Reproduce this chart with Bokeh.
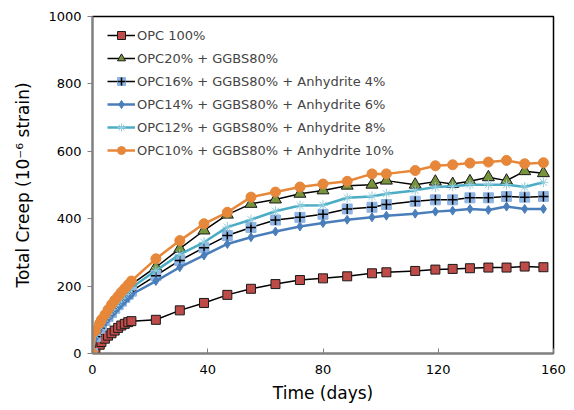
from bokeh.plotting import figure
from bokeh.models import FixedTicker, Legend, LegendItem
from bokeh.embed import file_html
from bokeh.resources import INLINE

days = [0, 1, 2.5, 3.1, 4.3, 5.4, 6.6, 7.7, 8.9, 10, 11.2, 12.4, 13.5,
        22, 30.3, 38.7, 46.8, 55, 63.5, 72, 80,
        88.4, 97, 102, 112, 119, 125, 131, 137.4, 143.7, 150, 156.5]

opc100 = [0, 15, 26, 34, 44, 53, 60, 68, 76, 83, 88, 93, 96,
          100, 128, 150, 174, 192, 206, 218, 223,
          229, 238, 241, 245, 249, 251, 253, 255, 255, 258, 256]
opc20 = [0, 60, 85, 95, 110, 124, 138, 150, 162, 173, 184, 195, 205,
         256, 311, 365, 412, 444, 457, 474, 484,
         498, 501, 513, 501, 510, 503, 511, 523, 513, 541, 535]
anh4 = [0, 50, 75, 85, 98, 110, 122, 134, 145, 155, 166, 176, 185,
        231, 276, 314, 350, 374, 396, 404, 413,
        429, 434, 442, 452, 456, 456, 462, 462, 466, 464, 466]
anh6 = [0, 45, 70, 80, 92, 104, 115, 126, 137, 147, 157, 166, 175,
        215, 256, 291, 325, 345, 362, 377, 387,
        397, 404, 409, 415, 421, 424, 429, 426, 436, 429, 429]
anh8 = [0, 55, 80, 90, 104, 117, 130, 142, 153, 164, 175, 185, 195,
        246, 294, 330, 375, 397, 422, 439, 440,
        462, 466, 474, 484, 494, 496, 501, 501, 501, 494, 508]
anh10 = [0, 68, 90, 100, 115, 130, 145, 158, 170, 182, 193, 204, 215,
         281, 335, 385, 419, 464, 479, 494, 503,
         511, 533, 533, 543, 557, 560, 565, 568, 573, 563, 566]

labels = ["OPC 100%", "OPC20% + GGBS80%", "OPC16% + GGBS80% + Anhydrite 4%",
          "OPC14% + GGBS80% + Anhydrite 6%", "OPC12% + GGBS80% + Anhydrite 8%",
          "OPC10% + GGBS80% + Anhydrite 10%"]
x_ticks = [0, 40, 80, 120, 160]
y_ticks = [0, 200, 400, 600, 800, 1000]

FONT = "DejaVu Sans"

p = figure(width=566, height=405, x_range=(0, 160), y_range=(0, 1000),
           output_backend="svg", toolbar_location=None,
           min_border_left=92, min_border_right=13, min_border_top=16, min_border_bottom=52)
p.grid.visible = False
p.outline_line_color = "black"
p.outline_line_width = 1.5
p.background_fill_color = "white"

for ax in (p.xaxis[0], p.yaxis[0]):
    ax.axis_line_color = "#808080"
    ax.axis_line_width = 2
    ax.major_tick_line_color = "#808080"
    ax.minor_tick_line_color = None
    ax.major_label_text_font = FONT
    ax.major_label_text_font_size = "13px"
    ax.major_label_text_color = "black"
    ax.axis_label_text_font = FONT
    ax.axis_label_text_font_size = "17px"
    ax.axis_label_text_font_style = "normal"
    ax.axis_label_text_color = "black"

p.xaxis.ticker = FixedTicker(ticks=x_ticks)
p.yaxis.ticker = FixedTicker(ticks=y_ticks)
p.xaxis.major_tick_in = 5
p.xaxis.major_tick_out = 0
p.yaxis.major_tick_in = 0
p.yaxis.major_tick_out = 5
p.xaxis.major_label_standoff = 11
p.yaxis.major_label_standoff = 6
p.xaxis.axis_label = "Time (days)"
p.yaxis.axis_label = "Total Creep (10\u207b\u2076 strain)"
p.xaxis.axis_label_standoff = 6
p.yaxis.axis_label_standoff = 12

items = []

def series(y, label, line_color, line_width, marker, size, fill, mline):
    r1 = p.line(days, y, line_color=line_color, line_width=line_width)
    r2 = p.scatter(days, y, marker=marker, size=size, fill_color=fill,
                   line_color=mline, line_width=1)
    rs = [r1, r2]
    if marker == "square" and fill == "#8EB4E3":
        r3 = p.scatter(days, y, marker="cross", size=size, line_color="black", line_width=1.5)
        rs.append(r3)
    items.append(LegendItem(label=label, renderers=rs))

series(opc100, labels[0], "black", 1.5, "square", 9, "#BE4B48", "#1a1a1a")
series(opc20, labels[1], "black", 1.5, "triangle", 12, "#77933C", "#1a1a1a")
series(anh4, labels[2], "black", 1.5, "square", 10, "#8EB4E3", "#8EB4E3")
series(anh6, labels[3], "#4A7EBB", 2.5, "diamond", 9, "#4A7EBB", "#4A7EBB")
series(anh8, labels[4], "#4BACC6", 2.5, "asterisk", 10, "#93CDDD", "#93CDDD")
series(anh10, labels[5], "#E6873A", 2.5, "circle", 10, "#E6873A", "#E6873A")

legend = Legend(items=items, location=(15, 193))
legend.background_fill_alpha = 0
legend.border_line_alpha = 0
legend.label_text_font = FONT
legend.label_text_font_size = "13px"
legend.glyph_width = 28
legend.label_standoff = 2
legend.spacing = 3
legend.margin = 0
legend.padding = 0
p.add_layout(legend)

open("out.html", "w").write(file_html(p, INLINE))
